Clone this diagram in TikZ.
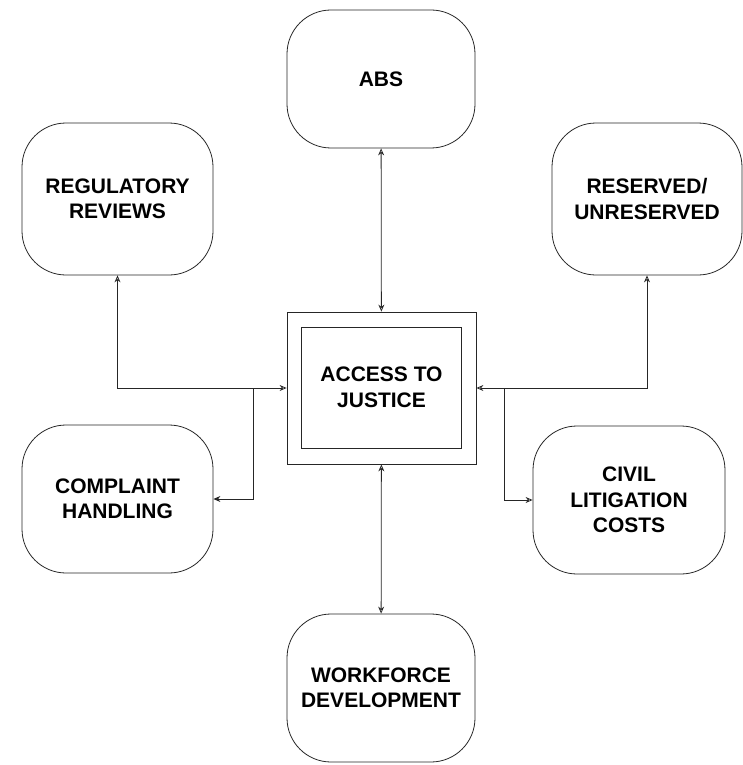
\documentclass[tikz,border=0pt]{standalone}
\usepackage{fontspec}
\setmainfont{Liberation Sans}
\usetikzlibrary{arrows.meta}
\tikzset{
	topic/.style={
			draw=black!85, thick, rounded corners=44pt,
			minimum width=#1, minimum height=150pt,
			align=center, font=\fontsize{21}{25.5}\selectfont\bfseries
		},
	link/.style={
			draw=black!85, thick,
			>={Stealth[length=7pt,width=6pt,open]}
		}
}

\begin{document}
\begin{tikzpicture}[x=1pt, y=-1pt]
		\useasboundingbox (0, 0) rectangle (742, 765);

		\node [topic=188pt, minimum height=138pt] (abs)	at (381, 79)	{ABS};
		\node [topic=191pt, minimum height=152pt] (reg)	at (117.5, 199)	{REGULATORY\\REVIEWS};
		\node [topic=190pt, minimum height=152pt] (res)	at (647, 199)	{RESERVED/\\UNRESERVED};
		\node [topic=191pt, minimum height=148pt] (comp)	at (117.5, 499)	{COMPLAINT\\HANDLING};
		\node [topic=192pt, minimum height=148pt] (civil)	at (629, 500)	{CIVIL\\LITIGATION\\COSTS};
		\node [topic=188pt, minimum height=148pt] (work)	at (381, 688)	{WORKFORCE\\DEVELOPMENT};

		\node [draw=black!85, thick, minimum width=189pt, minimum height=152pt] (outer) at (381.5, 388) {};
		\node [draw=black!85, thick, minimum width=160pt, minimum height=121pt, align=center,
			font=\fontsize{21}{25.5}\selectfont\bfseries] (inner) at (381.5, 387.5) {ACCESS TO\\JUSTICE};

		\coordinate (jl) at (253, 388);
		\coordinate (jr) at (504, 388);

		\draw [link, <->]	(abs) -- (outer);
		\draw [link, <->]	(outer) -- (work);
		\draw [link, <->]	(reg.south) |- (outer.west);
		\draw [link, <->]	(res.south) |- (outer.east);
		\draw [link, -{Stealth[length=7pt,width=6pt]}]	(jl) |- (comp.east);
		\draw [link, ->]	(jr) |- (civil.west);
	\end{tikzpicture}
\end{document}
